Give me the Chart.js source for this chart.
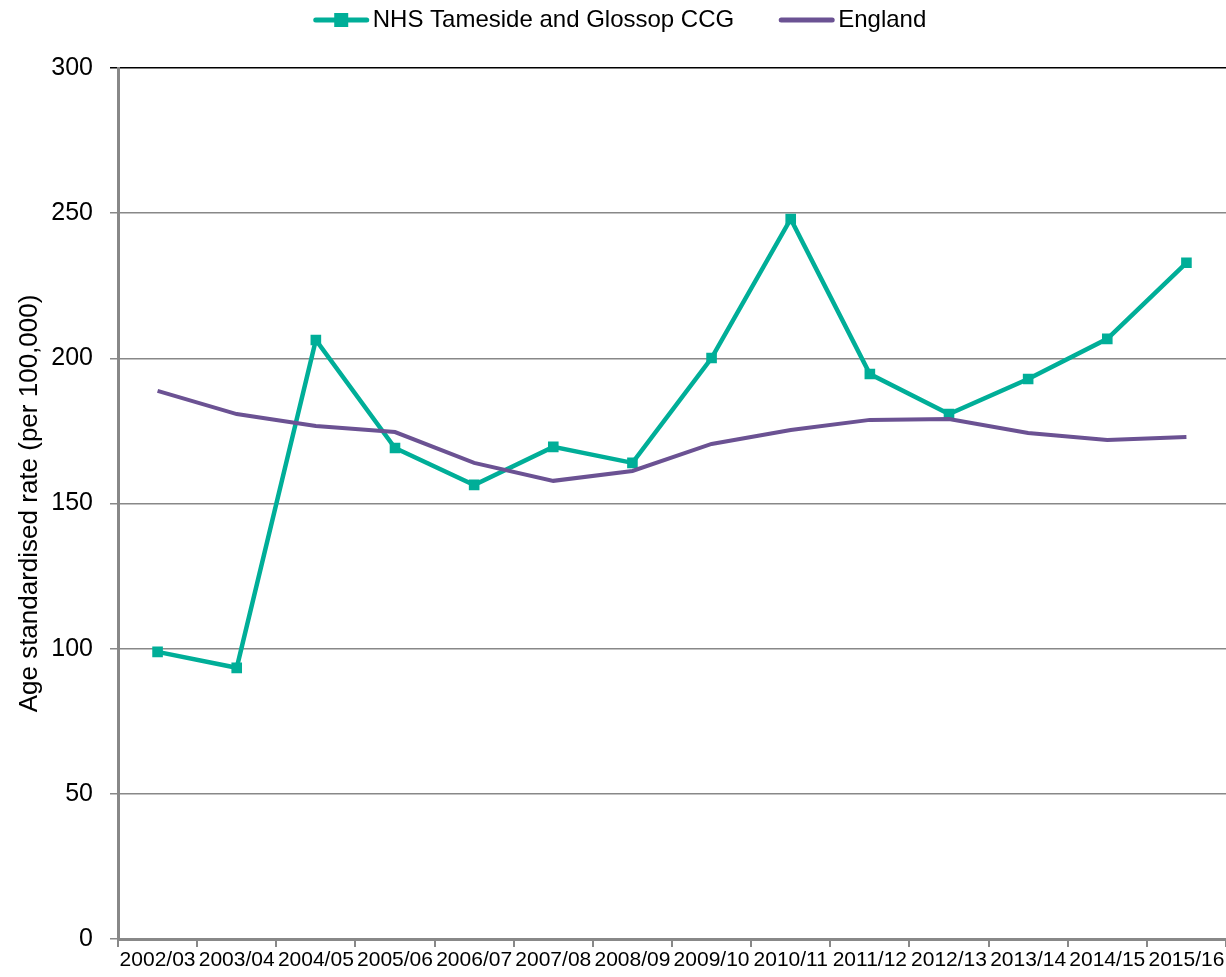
<!DOCTYPE html>
<html>
<head>
<meta charset="utf-8">
<script src="https://cdn.jsdelivr.net/npm/chart.js@4"></script>
<style>
html,body{margin:0;padding:0;background:#fff;}
#wrap{width:1226px;height:977px;position:relative;}
</style>
</head>
<body>
<div id="wrap"><canvas id="c" width="1226" height="977"></canvas></div>
<script>
const categories = ["2002/03","2003/04","2004/05","2005/06","2006/07","2007/08","2008/09","2009/10","2010/11","2011/12","2012/13","2013/14","2014/15","2015/16"];
const tamesideValues = [98.9, 93.4, 206.3, 169.1, 156.4, 169.5, 164.0, 200.1, 248.0, 194.6, 180.8, 192.9, 206.7, 232.9];
const englandValues = [188.8, 180.8, 176.7, 174.6, 164.0, 157.8, 161.2, 170.5, 175.3, 178.8, 179.1, 174.3, 171.9, 172.9];
const yTicks = [0, 50, 100, 150, 200, 250, 300];
const seriesNames = ["NHS Tameside and Glossop CCG", "England"];

const TEAL = "#00AE98";
const PURPLE = "#6B5293";
const FONT = "'Liberation Sans', Arial, sans-serif";

const LEGEND_TOP_SHIFT = -37;
const LEGEND_BOTTOM = 68;
const LEGEND_LINE_LEN = 55;
const LEGEND_X_SHIFT = 7;

const legendMarker = {
  id: 'legendMarker',
  beforeLayout(chart) {
    const lg = chart.legend;
    if (lg && !lg._patched) {
      const origFit = lg.fit.bind(lg);
      lg.fit = function () {
        origFit();
        this.height = LEGEND_BOTTOM - LEGEND_TOP_SHIFT;
      };
      lg._patched = true;
    }
  },
  afterLayout(chart) {
    const lg = chart.legend;
    if (!lg) return;
    lg.left += LEGEND_X_SHIFT;
    lg.right += LEGEND_X_SHIFT;
    (lg.legendHitBoxes || []).forEach(h => { h.left += LEGEND_X_SHIFT; });
  },
  afterDraw(chart) {
    const lg = chart.legend;
    if (!lg || !lg.legendHitBoxes || !lg.legendHitBoxes.length) return;
    const ctx = chart.ctx;
    const colors = [TEAL, PURPLE];
    lg.legendHitBoxes.forEach((hb, i) => {
      const cy = hb.top + hb.height / 2;
      ctx.save();
      ctx.strokeStyle = colors[i];
      ctx.lineWidth = 5;
      ctx.lineCap = 'round';
      ctx.beginPath();
      ctx.moveTo(hb.left + 2, cy);
      ctx.lineTo(hb.left + LEGEND_LINE_LEN - 2, cy);
      ctx.stroke();
      if (i === 0) {
        ctx.fillStyle = TEAL;
        const cx = hb.left + LEGEND_LINE_LEN / 2;
        ctx.fillRect(cx - 7, cy - 7, 14, 14);
      }
      ctx.restore();
    });
  }
};

new Chart(document.getElementById('c'), {
  type: 'line',
  data: {
    labels: categories,
    datasets: [
      {
        label: seriesNames[0],
        data: tamesideValues,
        borderColor: TEAL,
        backgroundColor: TEAL,
        borderWidth: 4.5,
        pointStyle: 'rect',
        pointRadius: 7.5,
        pointHoverRadius: 7.5,
        pointBackgroundColor: TEAL,
        pointBorderWidth: 0,
        tension: 0,
        order: 2
      },
      {
        label: seriesNames[1],
        data: englandValues,
        borderColor: PURPLE,
        backgroundColor: PURPLE,
        borderWidth: 4,
        pointRadius: 0,
        pointHoverRadius: 0,
        tension: 0,
        order: 1
      }
    ]
  },
  options: {
    responsive: false,
    animation: false,
    devicePixelRatio: 1,
    layout: { autoPadding: false, padding: { top: LEGEND_TOP_SHIFT, right: 0, left: 0, bottom: 0 } },
    plugins: {
      tooltip: { enabled: false },
      legend: {
        display: true,
        position: 'top',
        labels: {
          sort: (a, b) => a.datasetIndex - b.datasetIndex,
          generateLabels(chart) {
            return chart.data.datasets.map((ds, i) => ({
              text: ds.label,
              fillStyle: 'rgba(0,0,0,0)',
              strokeStyle: 'rgba(0,0,0,0)',
              lineWidth: 0,
              hidden: false,
              datasetIndex: i,
              fontColor: '#000'
            }));
          },
          boxWidth: 47,
          boxHeight: 5,
          padding: 45,
          color: '#000',
          font: { family: FONT, size: 24 }
        }
      }
    },
    scales: {
      x: {
        type: 'category',
        offset: true,
        grid: {
          offset: true,
          drawOnChartArea: false,
          drawTicks: true,
          tickLength: 8,
          color: '#888',
          lineWidth: 2
        },
        border: { display: true, color: '#888', width: 3 },
        ticks: {
          color: '#000',
          font: { family: FONT, size: 21 },
          maxRotation: 0,
          autoSkip: false,
          padding: 1
        },
        afterFit(scale) { scale.height = 38; }
      },
      y: {
        min: 0,
        max: 300,
        afterBuildTicks(scale) { scale.ticks = yTicks.map(v => ({ value: v })); },
        grid: {
          color: (ctx) => (ctx.tick && ctx.tick.value === 300 ? '#000' : '#888'),
          lineWidth: 1.5,
          drawTicks: true,
          tickLength: 8
        },
        border: { display: true, color: '#888', width: 3 },
        ticks: {
          color: '#000',
          font: { family: FONT, size: 25 },
          padding: 17
        },
        title: {
          display: true,
          text: 'Age standardised rate (per 100,000)',
          color: '#000',
          font: { family: FONT, size: 26 },
          padding: { top: 14, bottom: 0 }
        },
        afterFit(scale) { scale.width = 118; }
      }
    }
  },
  plugins: [legendMarker]
});
</script>
</body>
</html>
